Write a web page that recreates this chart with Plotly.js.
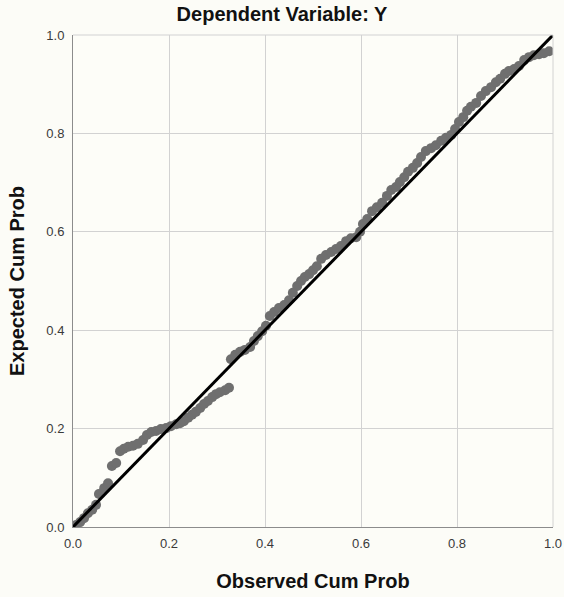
<!DOCTYPE html>
<html>
<head>
<meta charset="utf-8">
<script src="https://cdn.plot.ly/plotly-3.0.1.min.js"></script>
<style>html,body{margin:0;padding:0;background:#fcfcf7;}#chart{width:564px;height:597px;}</style>
</head>
<body>
<div id="chart"></div>
<script>
const observed = [0.006,0.015,0.023,0.031,0.040,0.048,0.054,0.065,0.073,0.081,0.090,0.098,0.106,0.115,0.125,0.135,0.146,0.154,0.163,0.173,0.183,0.194,0.204,0.215,0.223,0.231,0.240,0.248,0.256,0.265,0.273,0.281,0.290,0.298,0.306,0.317,0.325,
0.329,0.338,0.348,0.358,0.369,0.377,0.385,0.394,0.402,0.410,0.419,0.429,0.440,0.450,0.458,0.467,0.475,0.483,0.492,0.500,0.508,0.517,0.527,0.538,0.548,0.558,0.569,0.579,0.590,0.598,
0.604,0.613,0.623,0.633,0.644,0.654,0.663,0.673,0.681,0.690,0.698,0.708,0.717,0.725,0.735,0.746,0.756,0.767,0.777,0.788,0.796,0.804,0.813,0.821,0.829,0.840,0.850,0.860,0.871,0.881,0.890,0.900,0.908,0.919,0.929,0.940,0.950,0.960,0.971,0.981,0.992];
const expected = [0.004,0.010,0.018,0.028,0.035,0.045,0.067,0.079,0.089,0.124,0.130,0.154,0.159,0.163,0.165,0.169,0.177,0.187,0.193,0.195,0.199,0.201,0.205,0.209,0.211,0.215,0.222,0.228,0.234,0.242,0.250,0.256,0.264,0.270,0.274,0.278,0.283,
0.341,0.350,0.356,0.360,0.366,0.378,0.388,0.398,0.409,0.429,0.437,0.445,0.451,0.461,0.476,0.490,0.500,0.508,0.514,0.522,0.530,0.545,0.553,0.559,0.565,0.571,0.581,0.587,0.589,0.600,
0.616,0.626,0.642,0.650,0.659,0.673,0.685,0.691,0.701,0.711,0.722,0.730,0.740,0.752,0.764,0.770,0.776,0.785,0.791,0.797,0.809,0.823,0.833,0.846,0.854,0.862,0.876,0.886,0.894,0.904,0.911,0.921,0.927,0.931,0.937,0.949,0.955,0.959,0.961,0.963,0.967];
const refLineX = [0, 1];
const refLineY = [0, 1];
const tickVals = [0, 0.2, 0.4, 0.6, 0.8, 1.0];
const tickText = ["0.0", "0.2", "0.4", "0.6", "0.8", "1.0"];

const font = "Liberation Sans, Arial, sans-serif";
const traces = [
  {x: observed, y: expected, type: "scatter", mode: "markers",
   marker: {color: "#6f6f6f", size: 10}, hoverinfo: "skip", cliponaxis: true},
  {x: refLineX, y: refLineY, type: "scatter", mode: "lines",
   line: {color: "#000000", width: 3}, hoverinfo: "skip", cliponaxis: false}
];
const axisCommon = {
  range: [0, 1], tickvals: tickVals, ticktext: tickText,
  showgrid: true, gridcolor: "#d2d2d2", gridwidth: 1,
  zeroline: false, showline: true, linecolor: "#8c8c8c", linewidth: 1,
  ticks: "", tickfont: {family: font, size: 13, color: "#3a3a3a"},
  fixedrange: true
};
const layout = {
  width: 564, height: 597,
  margin: {l: 73, r: 11, t: 35, b: 70},
  paper_bgcolor: "#fcfcf7", plot_bgcolor: "#fdfdf8",
  showlegend: false,
  title: {text: "<b>Dependent Variable: Y</b>", font: {family: font, size: 20, color: "#111"},
          x: 0.5, xref: "container", y: 0.976, yref: "container", yanchor: "middle"},
  xaxis: Object.assign({}, axisCommon, {
    title: {text: "<b>Observed Cum Prob</b>", font: {family: font, size: 20, color: "#111"}, standoff: 24},
    ticklabelstandoff: 4
  }),
  yaxis: Object.assign({}, axisCommon, {
    title: {text: "<b>Expected Cum Prob</b>", font: {family: font, size: 20, color: "#111"}, standoff: 16},
    ticklabelstandoff: 5
  }),
  shapes: [
    {type: "line", xref: "paper", yref: "paper", x0: 0, x1: 1, y0: 1, y1: 1, line: {color: "#d2d2d2", width: 1}},
    {type: "line", xref: "paper", yref: "paper", x0: 1, x1: 1, y0: 0, y1: 1, line: {color: "#d2d2d2", width: 1}}
  ]
};
Plotly.newPlot("chart", traces, layout, {displayModeBar: false, staticPlot: true});
</script>
</body>
</html>
